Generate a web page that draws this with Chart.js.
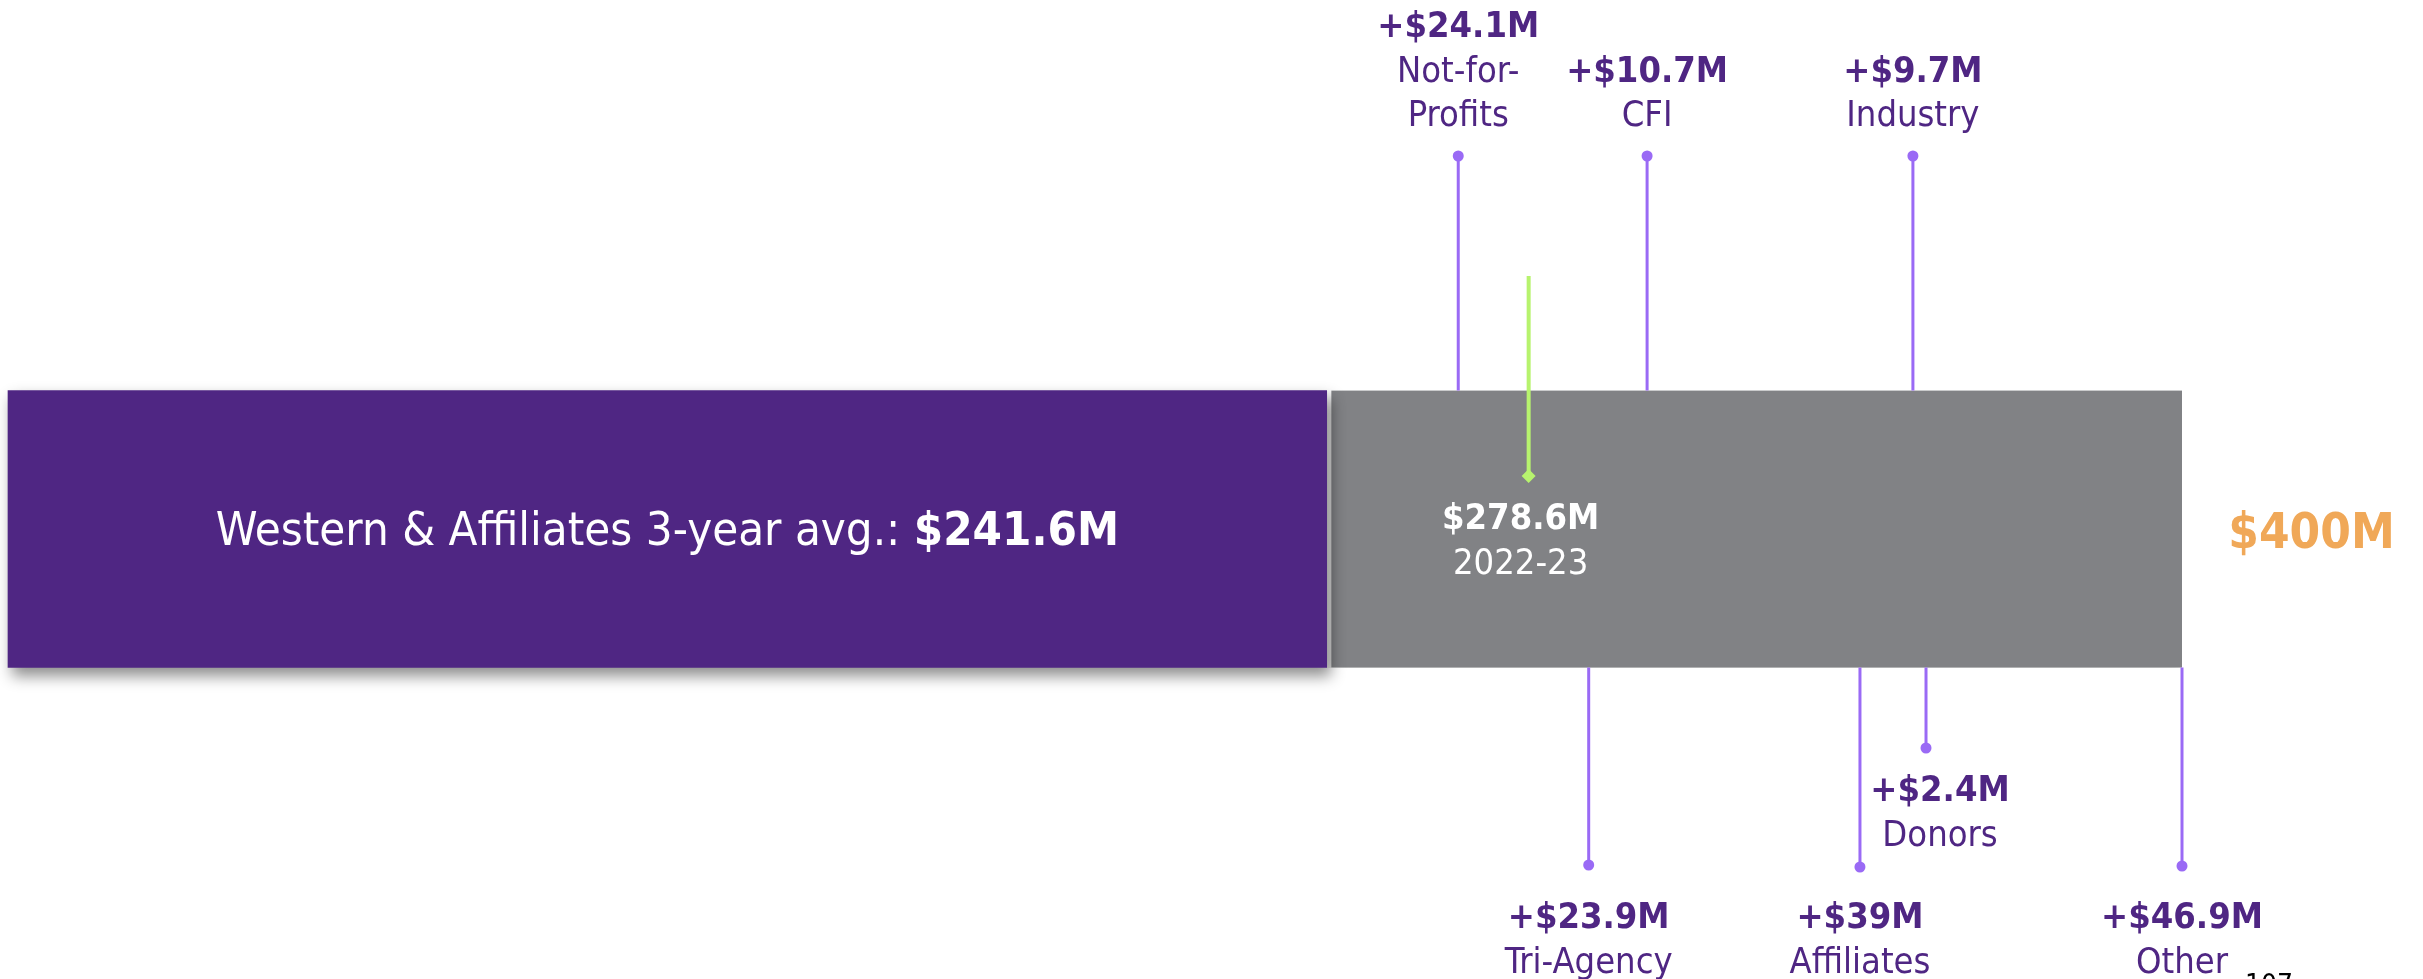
<!DOCTYPE html>
<html>
<head>
<meta charset="utf-8">
<script src="https://cdn.jsdelivr.net/npm/chart.js@4.4.1/dist/chart.umd.min.js"></script>
<style>
  html, body { margin: 0; padding: 0; background: #fff; }
</style>
</head>
<body>
<canvas id="fundingChart" width="2423" height="979"></canvas>
<script>
// ---- data ----
const sourceNames = [['Not-for-', 'Profits'], ['Tri-Agency'], ['CFI'], ['Affiliates'], ['Industry'], ['Donors'], ['Other']];
const sourceIncrements = [24.1, 23.9, 10.7, 39, 9.7, 2.4, 46.9];
const avgLabel = 'Western & Affiliates 3-year avg.: ';
const avgValue = 241.6;
const currentValue = 278.6;
const currentYear = '2022-23';
const targetValue = 400;
const pageNumber = '107';

// ---- layout (pixels) ----
const W = 2423, H = 979;
const barLeftPx = 8, barRightPx = 2182;
const barMidPx = 529, barThick = 277;
const sideTop = [true, false, true, false, true, false, false];
const stemEndPx = [156, 865, 156, 867, 156, 748, 866];
const labelBasePx = [126, 928, 126, 928, 126, 801, 928];
const labelShiftPx = [0, 0, 0, 0, 0, 14, 0];
const lineGap = 44.5;

const purple = '#4F2683';
const grey = '#818285';
const stemColor = '#9A6AF5';
const green = '#B7F36E';
const orange = '#F0A858';
const fontFamily = '"DejaVu Sans Condensed", "DejaVu Sans", sans-serif';

// running totals: every source stacks on the 3-year average
const cumulative = [];
sourceIncrements.reduce((acc, v) => { cumulative.push(+(acc + v).toFixed(1)); return acc + v; }, avgValue);
const barEnd = cumulative[cumulative.length - 1];

// value scale fitted so that 0 and the last total land on the bar edges
const unitPx = (barRightPx - barLeftPx) / barEnd;
const xMin = -barLeftPx / unitPx;
const xMax = xMin + W / unitPx;

const barTop = barMidPx - barThick / 2;
const barBottom = barMidPx + barThick / 2;

const stemSets = cumulative.map((v, i) => ({
  type: 'line',
  label: sourceNames[i].join(' '),
  data: sideTop[i]
    ? [{ x: v, y: stemEndPx[i] }, { x: v, y: barTop }]
    : [{ x: v, y: stemEndPx[i] }, { x: v, y: barBottom }],
  borderColor: stemColor,
  borderWidth: 3,
  pointRadius: [5.5, 0],
  pointBackgroundColor: stemColor,
  pointBorderWidth: 0,
  order: 1
}));

const currentSet = {
  type: 'line',
  label: currentYear,
  data: [{ x: currentValue, y: 276 }, { x: currentValue, y: 476 }],
  borderColor: green,
  borderWidth: 4,
  pointStyle: 'rectRot',
  pointRadius: [0, 7],
  pointBackgroundColor: green,
  pointBorderWidth: 0,
  order: 0
};

const shadowPlugin = {
  id: 'barShadow',
  beforeDatasetDraw(chart, args) {
    if (args.meta.type !== 'bar') return;
    const ctx = chart.ctx;
    ctx.save();
    ctx.shadowColor = 'rgba(0,0,0,0.45)';
    ctx.shadowBlur = 14;
    ctx.shadowOffsetX = 4;
    ctx.shadowOffsetY = 8;
  },
  afterDatasetDraw(chart, args) {
    if (args.meta.type !== 'bar') return;
    chart.ctx.restore();
  }
};

const labelPlugin = {
  id: 'textLabels',
  afterDatasetsDraw(chart) {
    const { ctx, scales: { x, y } } = chart;
    ctx.save();
    ctx.textAlign = 'center';
    ctx.textBaseline = 'alphabetic';

    // source call-outs
    cumulative.forEach((v, i) => {
      const cx = x.getPixelForValue(v) + labelShiftPx[i];
      const lines = ['+$' + sourceIncrements[i] + 'M'].concat(sourceNames[i]);
      const n = lines.length;
      const base = y.getPixelForValue(labelBasePx[i]);
      lines.forEach((txt, k) => {
        const ly = sideTop[i] ? base - (n - 1 - k) * lineGap : base + k * lineGap;
        ctx.font = (k === 0 ? 'bold ' : '') + '36px ' + fontFamily;
        ctx.fillStyle = purple;
        ctx.fillText(txt, cx, ly);
      });
    });

    // label inside the purple bar
    const midX = x.getPixelForValue(avgValue / 2);
    const midY = y.getPixelForValue(barMidPx);
    const boldTxt = '$' + avgValue + 'M';
    ctx.font = '47px ' + fontFamily;
    const w1 = ctx.measureText(avgLabel).width;
    ctx.font = 'bold 47px ' + fontFamily;
    const w2 = ctx.measureText(boldTxt).width;
    const startX = midX - (w1 + w2) / 2;
    ctx.textAlign = 'left';
    ctx.fillStyle = '#fff';
    ctx.font = '47px ' + fontFamily;
    ctx.fillText(avgLabel, startX, midY + 16);
    ctx.font = 'bold 47px ' + fontFamily;
    ctx.fillText(boldTxt, startX + w1, midY + 16);

    // current year marker label
    ctx.textAlign = 'center';
    const curX = x.getPixelForValue(currentValue) - 8;
    ctx.font = 'bold 36px ' + fontFamily;
    ctx.fillText('$' + currentValue + 'M', curX, midY);
    ctx.font = '36px ' + fontFamily;
    ctx.fillText(currentYear, curX, midY + 45);

    // target
    ctx.textAlign = 'left';
    ctx.fillStyle = orange;
    ctx.font = 'bold 49px ' + fontFamily;
    ctx.fillText('$' + targetValue + 'M', x.getPixelForValue(targetValue) + 37, midY + 19);

    // slide number, clipped by the bottom edge
    ctx.fillStyle = '#000';
    ctx.font = '28px ' + fontFamily;
    ctx.fillText(pageNumber, 2245, 994);
    ctx.restore();
  }
};

new Chart(document.getElementById('fundingChart'), {
  type: 'bar',
  data: {
    datasets: [
      {
        label: '3-year average',
        data: [{ y: barMidPx, x: [0, avgValue] }],
        backgroundColor: purple,
        barThickness: barThick,
        stack: 'bar',
        order: 2
      },
      {
        label: 'Sources',
        data: [{ y: barMidPx, x: [avgValue, barEnd] }],
        backgroundColor: grey,
        borderColor: '#fff',
        borderWidth: { left: 5, right: 0, top: 0, bottom: 0 },
        borderSkipped: false,
        barThickness: barThick,
        stack: 'bar',
        order: 3
      },
      ...stemSets,
      currentSet
    ]
  },
  options: {
    responsive: false,
    animation: false,
    indexAxis: 'y',
    layout: { padding: 0, autoPadding: false },
    plugins: { legend: { display: false }, tooltip: { enabled: false } },
    scales: {
      x: { type: 'linear', min: xMin, max: xMax, stacked: false, offset: false, display: false },
      y: { type: 'linear', min: 0, max: H, reverse: true, offset: false, display: false }
    }
  },
  plugins: [shadowPlugin, labelPlugin]
});
</script>
</body>
</html>
